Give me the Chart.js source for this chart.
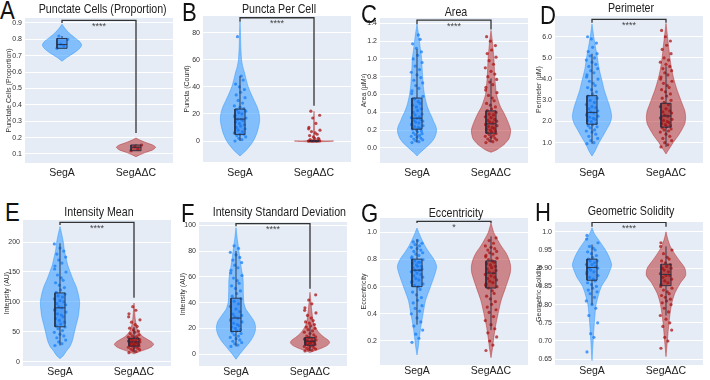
<!DOCTYPE html>
<html>
<head>
<meta charset="utf-8">
<script src="https://cdn.jsdelivr.net/npm/chart.js@4.4.1/dist/chart.umd.min.js"></script>
<style>
  html, body { margin: 0; padding: 0; background: #fff; }
  #fig { position: relative; width: 710px; height: 380px; overflow: hidden; font-family: "Liberation Sans", Arial, sans-serif; }
  .pane { position: absolute; }
  .letter { position: absolute; font-size: 26px; line-height: 26px; color: #111; transform-origin: left top; transform: scaleX(0.85); }
  .title { position: absolute; width: 152px; font-size: 13px; line-height: 13px; color: #222; text-align: center; white-space: nowrap; transform: scaleX(0.82); }
</style>
</head>
<body>
<div id="fig"></div>
<script>
const categories = ['SegA', 'SegAΔC'];

// ---- A: Punctate Cells (Proportion)
const aRange = [0.045, 0.93];
const aTicks = [0.1, 0.2, 0.3, 0.4, 0.5, 0.6, 0.7, 0.8, 0.9];
const aTickLabels = ['0.1', '0.2', '0.3', '0.4', '0.5', '0.6', '0.7', '0.8', '0.9'];
const aY0 = [0.666, 0.69, 0.72, 0.745, 0.765, 0.785, 0.81, 0.84, 0.87, 0.892];
const aD0 = [0, 0.26, 0.65, 0.91, 1, 0.91, 0.65, 0.35, 0.13, 0];
const aBox0 = [0.745, 0.745, 0.768, 0.805, 0.82];
const aPts0 = [0.745, 0.76, 0.77, 0.80, 0.82];
const aY1 = [0.083, 0.095, 0.11, 0.125, 0.141, 0.155, 0.17, 0.185, 0.198];
const aD1 = [0, 0.2, 0.5, 0.85, 1, 0.85, 0.5, 0.2, 0];
const aBox1 = [0.12, 0.12, 0.141, 0.155, 0.16];
const aPts1 = [0.12, 0.13, 0.145, 0.155];
const aBracket = [0.916, 0.9, 0.228];

// ---- B: Puncta Per Cell
const bRange = [-15.5, 92.3];
const bTicks = [0, 20, 40, 60, 80];
const bTickLabels = ['0', '20', '40', '60', '80'];
const bY0 = [-11, -8, -4, 0, 5, 10, 15, 20, 25, 30, 35, 40, 45, 50, 55, 60, 70, 80, 88];
const bD0 = [0, 0.24, 0.48, 0.68, 0.84, 0.94, 1, 0.98, 0.88, 0.72, 0.56, 0.42, 0.32, 0.24, 0.14, 0.08, 0.04, 0.024, 0];
const bBox0 = [0, 4.9, 16.2, 23.6, 48];
const bPts0 = [0, 1, 2, 3, 4, 5, 5, 6, 7, 8, 9, 10, 11, 12, 13, 14, 15, 16, 16, 17, 18, 19, 20, 21, 22, 23, 24, 25, 26, 28, 30, 32, 34, 36, 38, 40, 42, 45, 48, 77];
const bY1 = [-0.8, 0, 0.8, 5, 10, 15, 22];
const bD1 = [0, 1, 0.04, 0.025, 0.02, 0.012, 0];
const bBox1 = [0, 0, 0, 0, 0];
const bPts1 = [0, 0, 0, 0, 0, 0, 0, 0, 0, 0, 1, 1, 2, 2, 3, 4, 5, 6, 7, 8, 9, 10, 13, 17, 19, 22];
const bBracket = [91, 88, 26];

// ---- C: Area
const cRange = [-0.17, 1.46];
const cTicks = [0, 0.2, 0.4, 0.6, 0.8, 1.0, 1.2, 1.4];
const cTickLabels = ['0.0', '0.2', '0.4', '0.6', '0.8', '1.0', '1.2', '1.4'];
const cY0 = [-0.09, -0.05, 0, 0.05, 0.1, 0.15, 0.2, 0.25, 0.3, 0.35, 0.4, 0.45, 0.5, 0.6, 0.7, 0.8, 0.9, 1.0, 1.1, 1.2, 1.3, 1.39];
const cD0 = [0, 0.18, 0.43, 0.68, 0.86, 0.96, 1, 0.95, 0.84, 0.75, 0.64, 0.55, 0.48, 0.38, 0.32, 0.29, 0.26, 0.24, 0.18, 0.125, 0.064, 0];
const cBox0 = [0.06, 0.21, 0.334, 0.56, 1.11];
const cPts0 = [0.06, 0.07, 0.08, 0.09, 0.1, 0.11, 0.12, 0.13, 0.14, 0.15, 0.16, 0.17, 0.18, 0.19, 0.2, 0.21, 0.22, 0.23, 0.24, 0.25, 0.26, 0.27, 0.28, 0.29, 0.3, 0.31, 0.32, 0.33, 0.34, 0.35, 0.37, 0.38, 0.4, 0.42, 0.44, 0.46, 0.48, 0.5, 0.52, 0.55, 0.58, 0.61, 0.64, 0.67, 0.7, 0.73, 0.76, 0.79, 0.82, 0.85, 0.88, 0.92, 0.96, 1.0, 1.04, 1.08, 1.12, 1.17, 1.22, 1.27];
const cY1 = [-0.05, -0.02, 0.02, 0.05, 0.1, 0.15, 0.2, 0.25, 0.3, 0.35, 0.4, 0.45, 0.5, 0.6, 0.7, 0.8, 0.9, 1.0, 1.1, 1.2, 1.32];
const cD1 = [0, 0.3, 0.57, 0.72, 0.91, 0.98, 1, 0.94, 0.85, 0.75, 0.64, 0.51, 0.42, 0.28, 0.23, 0.19, 0.17, 0.15, 0.11, 0.07, 0];
const cBox1 = [0.06, 0.165, 0.27, 0.416, 0.78];
const cPts1 = [0.06, 0.07, 0.08, 0.09, 0.1, 0.11, 0.12, 0.13, 0.14, 0.15, 0.16, 0.17, 0.18, 0.19, 0.2, 0.21, 0.22, 0.23, 0.24, 0.25, 0.26, 0.27, 0.28, 0.29, 0.3, 0.31, 0.32, 0.34, 0.35, 0.37, 0.38, 0.4, 0.42, 0.44, 0.46, 0.48, 0.5, 0.53, 0.56, 0.59, 0.62, 0.65, 0.68, 0.71, 0.74, 0.77, 0.8, 0.83, 0.86, 0.9, 0.94, 0.98, 1.02, 1.06, 1.1, 1.15, 1.2, 1.25];
const cBracket = [1.437, 1.39, 1.33];

// ---- D: Perimeter
const dRange = [0.04, 6.98];
const dTicks = [1, 2, 3, 4, 5, 6];
const dTickLabels = ['1.0', '2.0', '3.0', '4.0', '5.0', '6.0'];
const dY0 = [0.37, 0.6, 0.8, 1.0, 1.3, 1.6, 1.9, 2.2, 2.5, 2.8, 3.1, 3.5, 4.0, 4.5, 5.0, 5.5, 6.0, 6.6];
const dD0 = [0, 0.15, 0.25, 0.36, 0.55, 0.73, 0.91, 1, 0.96, 0.87, 0.76, 0.62, 0.49, 0.36, 0.28, 0.18, 0.09, 0];
const dBox0 = [0.95, 1.87, 2.43, 3.22, 5.2];
const dPts0 = [0.95, 1.0, 1.1, 1.2, 1.3, 1.4, 1.5, 1.55, 1.6, 1.7, 1.75, 1.8, 1.85, 1.9, 2.0, 2.05, 2.1, 2.15, 2.2, 2.25, 2.3, 2.35, 2.4, 2.45, 2.5, 2.6, 2.65, 2.7, 2.8, 2.9, 3.0, 3.1, 3.2, 3.3, 3.4, 3.5, 3.6, 3.7, 3.8, 3.9, 4.0, 4.1, 4.2, 4.3, 4.4, 4.5, 4.6, 4.7, 4.8, 4.9, 5.0, 5.1, 5.2, 5.3, 5.5, 5.7, 5.9, 6.0];
const dY1 = [0.47, 0.7, 1.0, 1.3, 1.6, 1.9, 2.2, 2.5, 2.8, 3.1, 3.5, 4.0, 4.5, 5.0, 5.5, 6.0, 6.63];
const dD1 = [0, 0.16, 0.36, 0.6, 0.8, 0.96, 1, 0.96, 0.84, 0.72, 0.56, 0.4, 0.28, 0.2, 0.14, 0.08, 0];
const dBox1 = [0.8, 1.73, 2.26, 2.86, 4.6];
const dPts1 = [0.8, 0.9, 1.0, 1.1, 1.2, 1.3, 1.4, 1.5, 1.55, 1.6, 1.65, 1.7, 1.75, 1.8, 1.85, 1.9, 1.95, 2.0, 2.05, 2.1, 2.15, 2.2, 2.25, 2.3, 2.4, 2.45, 2.5, 2.6, 2.7, 2.8, 2.9, 3.0, 3.1, 3.2, 3.3, 3.4, 3.5, 3.6, 3.7, 3.8, 3.9, 4.0, 4.1, 4.2, 4.3, 4.4, 4.5, 4.6, 4.7, 4.8, 4.9, 5.0, 5.2, 5.4, 5.6, 5.8, 6.0, 6.3];
const dBracket = [6.82, 6.66, 6.66];

// ---- E: Intensity Mean
const eRange = [-7.3, 237];
const eTicks = [0, 50, 100, 150, 200];
const eTickLabels = ['0', '50', '100', '150', '200'];
const eY0 = [5, 10, 18, 25, 35, 50, 62, 75, 88, 100, 112, 125, 137, 150, 162, 175, 187, 200, 213, 226];
const eD0 = [0, 0.17, 0.33, 0.5, 0.63, 0.74, 0.83, 0.93, 0.98, 1, 0.94, 0.83, 0.67, 0.52, 0.39, 0.3, 0.22, 0.17, 0.09, 0];
const eBox0 = [27, 58.3, 90, 115, 198];
const ePts0 = [27, 30, 33, 36, 40, 43, 46, 49, 52, 55, 58, 60, 63, 66, 69, 72, 75, 78, 80, 83, 86, 88, 90, 92, 95, 97, 100, 102, 105, 108, 110, 113, 116, 120, 124, 128, 132, 136, 140, 145, 150, 155, 160, 165, 170, 175, 180, 185, 190, 197];
const eY1 = [13, 17, 21, 25, 29, 33, 37, 42, 47, 52, 60, 70, 80, 90, 98];
const eD1 = [0, 0.3, 0.65, 0.9, 1, 0.9, 0.7, 0.45, 0.3, 0.2, 0.12, 0.07, 0.04, 0.02, 0];
const eBox1 = [15, 26, 33, 39, 58];
const ePts1 = [15, 17, 19, 20, 21, 22, 23, 24, 25, 26, 26, 27, 28, 29, 29, 30, 31, 32, 32, 33, 34, 35, 35, 36, 37, 38, 39, 40, 41, 42, 43, 45, 47, 49, 51, 53, 56, 59, 62, 66, 70, 75, 80, 86, 92];
const eBracket = [233, 228.8, 106.7];

// ---- F: Intensity Standard Deviation
const fRange = [-9.2, 102.5];
const fTicks = [0, 20, 40, 60, 80, 100];
const fTickLabels = ['0', '20', '40', '60', '80', '100'];
const fY0 = [-4, 0, 5, 10, 15, 20, 25, 30, 35, 40, 45, 50, 55, 60, 65, 70, 75, 80, 90, 98];
const fD0 = [0, 0.19, 0.46, 0.73, 0.92, 1, 0.94, 0.73, 0.5, 0.4, 0.38, 0.37, 0.37, 0.35, 0.29, 0.24, 0.19, 0.15, 0.06, 0];
const fBox0 = [6, 17.6, 28, 43.4, 80];
const fPts0 = [6, 7, 8, 9, 10, 11, 12, 13, 14, 15, 16, 17, 18, 19, 20, 21, 22, 23, 24, 25, 26, 27, 28, 29, 30, 31, 33, 35, 37, 39, 41, 43, 45, 47, 49, 51, 53, 55, 57, 59, 61, 63, 65, 67, 69, 71, 73, 75, 77, 79, 82, 84];
const fY1 = [1.3, 3, 5, 7, 9, 11, 13, 16, 19, 22, 26, 30, 35, 40, 48];
const fD1 = [0, 0.31, 0.65, 0.9, 1, 0.92, 0.73, 0.5, 0.35, 0.23, 0.15, 0.12, 0.08, 0.05, 0];
const fBox1 = [2.5, 6.9, 10, 12.8, 21.5];
const fPts1 = [2.5, 3, 3.5, 4, 4.5, 5, 5.5, 6, 6.5, 7, 7.5, 8, 8.5, 9, 9, 9.5, 10, 10, 10.5, 11, 11.5, 12, 12.5, 13, 13.5, 14, 15, 16, 17, 18, 19, 20, 21, 22, 23, 24, 25, 26, 28, 30, 32, 34, 36, 39, 42, 46];
const fBracket = [101.3, 99.2, 50.7];

// ---- G: Eccentricity
const gRange = [0.023, 1.106];
const gTicks = [0.2, 0.4, 0.6, 0.8, 1.0];
const gTickLabels = ['0.2', '0.4', '0.6', '0.8', '1.0'];
const gY0 = [0.097, 0.15, 0.2, 0.3, 0.4, 0.5, 0.6, 0.7, 0.75, 0.8, 0.85, 0.9, 0.95, 1.0, 1.032];
const gD0 = [0, 0.06, 0.1, 0.19, 0.31, 0.44, 0.69, 0.93, 1, 0.87, 0.63, 0.41, 0.24, 0.09, 0];
const gBox0 = [0.32, 0.60, 0.722, 0.803, 0.95];
const gPts0 = [0.19, 0.22, 0.25, 0.28, 0.31, 0.34, 0.37, 0.4, 0.42, 0.44, 0.46, 0.48, 0.5, 0.52, 0.54, 0.56, 0.58, 0.6, 0.61, 0.62, 0.63, 0.64, 0.65, 0.66, 0.67, 0.68, 0.69, 0.7, 0.71, 0.72, 0.72, 0.73, 0.74, 0.75, 0.75, 0.76, 0.77, 0.78, 0.78, 0.79, 0.8, 0.81, 0.82, 0.83, 0.84, 0.85, 0.86, 0.87, 0.88, 0.89, 0.9, 0.91, 0.92, 0.93, 0.94];
const gY1 = [0.077, 0.15, 0.2, 0.3, 0.4, 0.5, 0.6, 0.7, 0.75, 0.8, 0.85, 0.9, 0.95, 1.0, 1.07];
const gD1 = [0, 0.08, 0.12, 0.22, 0.36, 0.52, 0.76, 0.98, 1, 0.92, 0.76, 0.52, 0.32, 0.14, 0];
const gBox1 = [0.28, 0.59, 0.70, 0.79, 0.97];
const gPts1 = [0.13, 0.17, 0.2, 0.23, 0.26, 0.29, 0.32, 0.35, 0.38, 0.41, 0.43, 0.45, 0.47, 0.49, 0.51, 0.53, 0.55, 0.57, 0.59, 0.6, 0.61, 0.62, 0.63, 0.64, 0.65, 0.66, 0.67, 0.68, 0.69, 0.7, 0.71, 0.72, 0.73, 0.74, 0.75, 0.76, 0.77, 0.78, 0.79, 0.8, 0.81, 0.82, 0.83, 0.84, 0.85, 0.86, 0.87, 0.88, 0.89, 0.9, 0.92, 0.94, 0.96];
const gBracket = [1.081, 1.07, 1.07];

// ---- H: Geometric Solidity
const hRange = [0.634, 1.027];
const hTicks = [0.65, 0.70, 0.75, 0.80, 0.85, 0.90, 0.95, 1.0];
const hTickLabels = ['0.65', '0.70', '0.75', '0.80', '0.85', '0.90', '0.95', '1.0'];
const hY0 = [0.646, 0.7, 0.75, 0.8, 0.83, 0.85, 0.875, 0.9, 0.91, 0.93, 0.95, 0.977, 0.995, 1.011];
const hD0 = [0, 0.06, 0.12, 0.21, 0.35, 0.48, 0.77, 0.96, 1, 0.88, 0.69, 0.35, 0.12, 0];
const hBox0 = [0.80, 0.867, 0.902, 0.925, 0.965];
const hPts0 = [0.67, 0.71, 0.72, 0.75, 0.77, 0.79, 0.8, 0.81, 0.82, 0.83, 0.835, 0.84, 0.845, 0.85, 0.855, 0.86, 0.865, 0.87, 0.875, 0.88, 0.885, 0.89, 0.89, 0.895, 0.9, 0.9, 0.905, 0.91, 0.91, 0.915, 0.92, 0.92, 0.925, 0.93, 0.935, 0.94, 0.945, 0.95, 0.955, 0.96, 0.97, 0.98, 0.99];
const hY1 = [0.657, 0.7, 0.75, 0.8, 0.83, 0.86, 0.88, 0.9, 0.92, 0.94, 0.96, 0.98, 1.0];
const hD1 = [0, 0.07, 0.15, 0.28, 0.44, 0.74, 1, 0.96, 0.7, 0.44, 0.22, 0.09, 0];
const hBox1 = [0.77, 0.852, 0.883, 0.911, 0.96];
const hPts1 = [0.68, 0.7, 0.71, 0.73, 0.74, 0.75, 0.76, 0.77, 0.78, 0.79, 0.8, 0.805, 0.81, 0.815, 0.82, 0.825, 0.83, 0.835, 0.84, 0.845, 0.85, 0.855, 0.86, 0.865, 0.87, 0.875, 0.88, 0.88, 0.885, 0.89, 0.895, 0.9, 0.9, 0.905, 0.91, 0.915, 0.92, 0.925, 0.93, 0.94, 0.95, 0.96, 0.97];
const hBracket = [1.026, 1.014, 1.014];

// panels built from the arrays above
const panels = [
  { title: 'Punctate Cells (Proportion)', yTitle: 'Punctate Cells (Proportion)', range: aRange, ticks: aTicks, labels: aTickLabels,
    groups: [[aY0, aD0, aBox0, aPts0], [aY1, aD1, aBox1, aPts1]], bracket: aBracket, sig: '****' },
  { title: 'Puncta Per Cell', yTitle: 'Puncta (Count)', range: bRange, ticks: bTicks, labels: bTickLabels,
    groups: [[bY0, bD0, bBox0, bPts0], [bY1, bD1, bBox1, bPts1]], bracket: bBracket, sig: '****' },
  { title: 'Area', yTitle: 'Area (µM²)', range: cRange, ticks: cTicks, labels: cTickLabels,
    groups: [[cY0, cD0, cBox0, cPts0], [cY1, cD1, cBox1, cPts1]], bracket: cBracket, sig: '****' },
  { title: 'Perimeter', yTitle: 'Perimeter (µM)', range: dRange, ticks: dTicks, labels: dTickLabels,
    groups: [[dY0, dD0, dBox0, dPts0], [dY1, dD1, dBox1, dPts1]], bracket: dBracket, sig: '****' },
  { title: 'Intensity Mean', yTitle: 'Intensity (AU)', range: eRange, ticks: eTicks, labels: eTickLabels,
    groups: [[eY0, eD0, eBox0, ePts0], [eY1, eD1, eBox1, ePts1]], bracket: eBracket, sig: '****' },
  { title: 'Intensity Standard Deviation', yTitle: 'Intensity (AU)', range: fRange, ticks: fTicks, labels: fTickLabels,
    groups: [[fY0, fD0, fBox0, fPts0], [fY1, fD1, fBox1, fPts1]], bracket: fBracket, sig: '****' },
  { title: 'Eccentricity', yTitle: 'Eccentricity', range: gRange, ticks: gTicks, labels: gTickLabels,
    groups: [[gY0, gD0, gBox0, gPts0], [gY1, gD1, gBox1, gPts1]], bracket: gBracket, sig: '*' },
  { title: 'Geometric Solidity', yTitle: 'Geometric Solidity', range: hRange, ticks: hTicks, labels: hTickLabels,
    groups: [[hY0, hD0, hBox0, hPts0], [hY1, hD1, hBox1, hPts1]], bracket: hBracket, sig: '****' }
];

// page layout (pixels)
const layout = [
  { letter: 'A', lx: 0,   ly: -3,  tTop: 2,   left: 25,  top: 18,  bottom: 163, row: 0, labPad: 4 },
  { letter: 'B', lx: 182, ly: -1,  tTop: 2,   left: 203, top: 16,  bottom: 162, row: 0, labPad: 5 },
  { letter: 'C', lx: 361, ly: 1,   tTop: 5,   left: 380, top: 18,  bottom: 163, row: 0, labPad: 4 },
  { letter: 'D', lx: 540, ly: 2,   tTop: 1,   left: 555, top: 16,  bottom: 163, row: 0, labPad: 4 },
  { letter: 'E', lx: 5,   ly: 199, tTop: 205, left: 23,  top: 220, bottom: 366, row: 1, labPad: 0 },
  { letter: 'F', lx: 181, ly: 200, tTop: 205, left: 199, top: 222, bottom: 366, row: 1, labPad: 0 },
  { letter: 'G', lx: 361, ly: 200, tTop: 206, left: 380, top: 218, bottom: 365, row: 1, labPad: 0 },
  { letter: 'H', lx: 535, ly: 199, tTop: 204, left: 555, top: 222, bottom: 365, row: 1, labPad: 0 }
];

const VW = 0.265;  // violin max half width (x units)
const BW = 0.068;  // box half width
const JW = 0.085;  // jitter half width
const JITTER = [-0.8, 0.3, -0.2, 0.9, -0.5, 0.6, 0.0, -0.9, 0.4, -0.3, 0.8, -0.6, 0.1, 0.7, -0.1, -0.7, 0.5, 0.2, -0.4, 0.95, -0.85];
const YAXIS_W = 24;
const PLOT_W = 152;
const FONT = '"Liberation Sans", Arial, sans-serif';

const palette = [
  { violin: 'rgba(30,144,255,0.5)', edge: 'rgba(30,144,255,0.55)', box: 'rgba(20,115,235,0.45)', pts: 'rgba(25,125,245,0.75)' },
  { violin: 'rgba(178,34,34,0.5)', edge: 'rgba(178,34,34,0.55)', box: 'rgba(150,15,15,0.5)', pts: 'rgba(170,20,20,0.75)' }
];
const BOX_LINE = 'rgba(35,45,65,0.9)';

const bgPlugin = {
  id: 'plotBg',
  beforeDraw(chart) {
    const { ctx, chartArea: a } = chart;
    ctx.save();
    ctx.fillStyle = '#E5ECF6';
    ctx.fillRect(a.left, a.top, a.right - a.left, a.bottom - a.top);
    ctx.restore();
  }
};

const sigPlugin = {
  id: 'sig',
  afterDatasetsDraw(chart, args, opts) {
    const { ctx, scales: { x, y } } = chart;
    ctx.save();
    ctx.font = '9px ' + FONT;
    ctx.fillStyle = '#444';
    ctx.textAlign = 'center';
    ctx.textBaseline = 'top';
    ctx.fillText(opts.text, x.getPixelForValue(0.5), y.getPixelForValue(opts.y) + 1.5);
    ctx.restore();
  }
};

function groupDatasets(g, c) {
  const [levels, dens, box, pts] = g;
  const col = palette[c];
  const right = levels.map((y, i) => ({ x: c + dens[i] * VW, y }));
  const left = levels.map((y, i) => ({ x: c - dens[i] * VW, y })).reverse();
  const [lo, q1, med, q3, hi] = box;
  return [
    { data: right.concat(left), showLine: true, fill: 'shape', backgroundColor: col.violin, borderColor: col.edge,
      borderWidth: 0.8, pointRadius: 0, tension: 0.25, order: 6 },
    { data: pts.map((y, i) => ({ x: c + JITTER[i % JITTER.length] * JW, y })), showLine: false,
      pointRadius: 1.6, pointBorderWidth: 0, backgroundColor: col.pts, order: 5 },
    { data: [{ x: c, y: lo }, { x: c, y: q1 }, { x: c, y: null }, { x: c, y: q3 }, { x: c, y: hi }], showLine: true,
      spanGaps: false, borderColor: BOX_LINE, borderWidth: 1, pointRadius: 0, order: 4 },
    { data: [{ x: c - BW, y: q1 }, { x: c + BW, y: q1 }, { x: c + BW, y: q3 }, { x: c - BW, y: q3 }, { x: c - BW, y: q1 }],
      showLine: true, fill: 'shape', backgroundColor: col.box, borderColor: BOX_LINE, borderWidth: 1, pointRadius: 0, order: 3 },
    { data: [{ x: c - BW, y: med }, { x: c + BW, y: med }], showLine: true, borderColor: BOX_LINE, borderWidth: 1,
      pointRadius: 0, order: 2 }
  ];
}

const fig = document.getElementById('fig');

panels.forEach((p, k) => {
  const L = layout[k];
  const rowTop = L.row * 190;

  const letter = document.createElement('div');
  letter.className = 'letter';
  letter.textContent = L.letter;
  letter.style.left = L.lx + 'px';
  letter.style.top = L.ly + 'px';
  fig.appendChild(letter);

  const pane = document.createElement('div');
  pane.className = 'pane';
  pane.style.left = (L.left - YAXIS_W) + 'px';
  pane.style.top = rowTop + 'px';
  const canvas = document.createElement('canvas');
  canvas.width = YAXIS_W + PLOT_W;
  canvas.height = 190;
  pane.appendChild(canvas);
  fig.appendChild(pane);

  const title = document.createElement('div');
  title.className = 'title';
  title.textContent = p.title;
  title.style.left = L.left + 'px';
  title.style.top = L.tTop + 'px';
  fig.appendChild(title);

  const [bTop, bLeft, bRight] = p.bracket;
  const datasets = [
    ...groupDatasets(p.groups[0], 0),
    ...groupDatasets(p.groups[1], 1),
    { data: [{ x: 0, y: bLeft }, { x: 0, y: bTop }, { x: 1, y: bTop }, { x: 1, y: bRight }], showLine: true,
      borderColor: '#333', borderWidth: 1.3, pointRadius: 0, order: 0 }
  ];

  new Chart(canvas, {
    type: 'scatter',
    data: { datasets },
    options: {
      responsive: false,
      animation: false,
      layout: { padding: { top: L.top - rowTop, left: 0, right: 0, bottom: 0 } },
      plugins: {
        legend: { display: false },
        tooltip: { enabled: false },
        sig: { text: p.sig, y: bTop }
      },
      scales: {
        x: {
          type: 'linear', min: -0.5, max: 1.5,
          grid: { display: false, drawTicks: false },
          border: { display: false },
          afterBuildTicks: s => { s.ticks = [{ value: 0 }, { value: 1 }]; },
          afterFit: s => { s.height = rowTop + 190 - L.bottom; },
          ticks: { autoSkip: false, maxRotation: 0, padding: L.labPad, color: '#222',
                   font: { family: FONT, size: 10.5 }, callback: v => categories[v] }
        },
        y: {
          min: p.range[0], max: p.range[1],
          grid: { color: '#ffffff', lineWidth: 1, drawTicks: false },
          border: { display: false },
          afterBuildTicks: s => { s.ticks = p.ticks.map(v => ({ value: v })); },
          afterFit: s => { s.width = YAXIS_W; },
          ticks: { autoSkip: false, padding: 3, color: '#333', font: { family: FONT, size: 7 },
                   callback: (v, i) => p.labels[i] },
          title: { display: true, text: p.yTitle, color: '#333', font: { family: FONT, size: 7 },
                   padding: { top: 4, bottom: 0 } }
        }
      }
    },
    plugins: [bgPlugin, sigPlugin]
  });
});
</script>
</body>
</html>
